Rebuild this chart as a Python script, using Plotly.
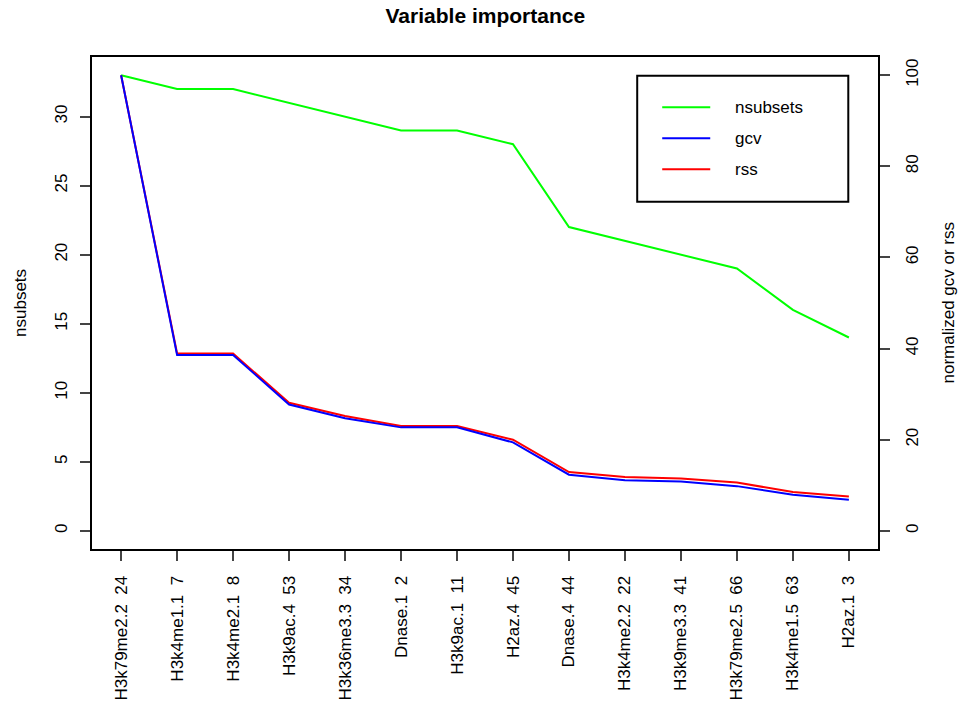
import plotly.graph_objects as go

# Variable names (with column index) ordered by importance
variables = [
    "H3k79me2.2  24", "H3k4me1.1  7", "H3k4me2.1  8", "H3k9ac.4  53",
    "H3k36me3.3  34", "Dnase.1  2", "H3k9ac.1  11", "H2az.4  45",
    "Dnase.4  44", "H3k4me2.2  22", "H3k9me3.3  41", "H3k79me2.5  66",
    "H3k4me1.5  63", "H2az.1  3",
]
nsubsets = [33, 32, 32, 31, 30, 29, 29, 28, 22, 21, 20, 19, 16, 14]
gcv = [100, 38.6, 38.6, 27.7, 24.7, 22.7, 22.7, 19.4, 12.3, 11.1, 10.8, 9.8, 7.9, 6.8]
rss = [100, 38.9, 38.9, 28.1, 25.2, 23.0, 23.0, 20.0, 12.9, 11.8, 11.5, 10.6, 8.5, 7.5]

y_left_ticks = [0, 5, 10, 15, 20, 25, 30]
y_right_ticks = [0, 20, 40, 60, 80, 100]

labels = [v.replace(" ", "\u00a0") for v in variables]
xpos = list(range(1, len(variables) + 1))

FONT = "Liberation Sans, Arial, sans-serif"
GREEN, BLUE, RED = "#00FF00", "#0000FF", "#FF0000"

fig = go.Figure()
fig.add_trace(go.Scatter(x=xpos, y=nsubsets, mode="lines", name="nsubsets",
                         line=dict(color=GREEN, width=2), yaxis="y"))
fig.add_trace(go.Scatter(x=xpos, y=rss, mode="lines", name="rss",
                         line=dict(color=RED, width=2), yaxis="y2"))
fig.add_trace(go.Scatter(x=xpos, y=gcv, mode="lines", name="gcv",
                         line=dict(color=BLUE, width=2), yaxis="y2"))

# R-style 4% axis padding
def padded(lo, hi):
    d = (hi - lo) * 0.04
    return [lo - d, hi + d]

n = len(variables)
axis_common = dict(showgrid=False, zeroline=False, showline=True,
                   linecolor="black", linewidth=2, ticks="outside",
                   ticklen=10, tickwidth=1.5, tickcolor="#444",
                   automargin=False,
                   tickfont=dict(family=FONT, size=17, color="black"))

fig.update_layout(
    width=958, height=705,
    margin=dict(l=92, r=80, t=57, b=156),
    paper_bgcolor="white", plot_bgcolor="white",
    showlegend=False,
    title=dict(text="<b>Variable importance</b>", x=0.5066, xanchor="center",
               y=1 - 16 / 705, yanchor="middle", yref="container",
               font=dict(family=FONT, size=21, color="black")),
    xaxis=dict(axis_common, range=padded(1, n), tickmode="array",
               tickvals=xpos, ticktext=labels, tickangle=-90,
               mirror=True, ticklabelstandoff=8),
    yaxis=dict(axis_common, range=padded(0, max(nsubsets)), tickmode="array",
               tickvals=y_left_ticks, tickangle=-90, ticklabelstandoff=6),
    yaxis2=dict(axis_common, range=padded(0, 100), tickmode="array",
                tickvals=y_right_ticks, tickangle=-90, overlaying="y",
                side="right", ticklabelstandoff=8),
)

# Axis titles
fig.add_annotation(text="nsubsets", xref="paper", yref="paper",
                   x=-72 / 785.7, y=0.5, textangle=-90, showarrow=False,
                   xanchor="center", yanchor="middle",
                   font=dict(family=FONT, size=17, color="black"))
fig.add_annotation(text="normalized gcv or rss", xref="paper", yref="paper",
                   x=1 + 69.5 / 785.7, y=0.5, textangle=-90, showarrow=False,
                   xanchor="center", yanchor="middle",
                   font=dict(family=FONT, size=17, color="black"))

# Legend box drawn in plot-paper coordinates
W, H, TOP = 785.7, 492.0, 57.3
def px(x):
    return (x - 92) / W
def py(y):
    return (TOP + H - y) / H

fig.add_shape(type="rect", xref="paper", yref="paper",
              x0=px(637), x1=px(848), y0=py(76), y1=py(202),
              line=dict(color="black", width=2), fillcolor="white", layer="above")
for name, color, yy in [("nsubsets", GREEN, 107.5), ("gcv", BLUE, 138.5), ("rss", RED, 169.5)]:
    fig.add_shape(type="line", xref="paper", yref="paper",
                  x0=px(662), x1=px(710), y0=py(yy), y1=py(yy),
                  line=dict(color=color, width=2), layer="above")
    fig.add_annotation(text=name, xref="paper", yref="paper",
                       x=px(733), y=py(yy), xanchor="left", yanchor="middle",
                       showarrow=False,
                       font=dict(family=FONT, size=17, color="black"))

fig.write_html("out.html")
